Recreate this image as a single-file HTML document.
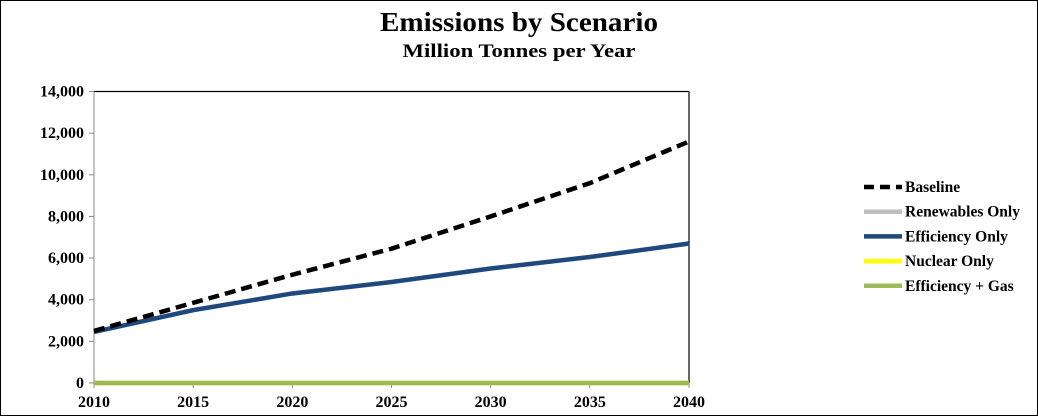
<!DOCTYPE html>
<html><head><meta charset="utf-8"><style>
html,body{margin:0;padding:0;background:#fff}
svg{display:block;font-family:"Liberation Serif",serif;font-weight:bold}
</style></head><body>
<svg width="1038" height="416" id="chart">
<rect x="0.5" y="0.5" width="1037" height="415" fill="#fff" stroke="#000"/>
<text x="519" y="31" text-anchor="middle" font-size="27" textLength="278" lengthAdjust="spacingAndGlyphs">Emissions by Scenario</text>
<text x="519" y="57" text-anchor="middle" font-size="19" textLength="233" lengthAdjust="spacingAndGlyphs">Million Tonnes per Year</text>
<g id="plot"></g>
<g id="legend"></g>
</svg>
<script>
const years=[2010,2015,2020,2025,2030,2035,2040];
const yTicks=[0,2000,4000,6000,8000,10000,12000,14000];
const baseline=[2500,3850,5200,6450,8000,9600,11600];
const renewables=[0,0,0,0,0,0,0];
const efficiency=[2450,3500,4300,4850,5500,6050,6700];
const nuclear=[0,0,0,0,0,0,0];
const effGas=[0,0,0,0,0,0,0];
const seriesNames=["Baseline","Renewables Only","Efficiency Only","Nuclear Only","Efficiency + Gas"];
const L=94,R=689,T=91.5,B=383;
const x=v=>L+(v-2010)/30*(R-L);
const y=v=>B-v/14000*(B-T);
const NS="http://www.w3.org/2000/svg";
const plot=document.getElementById('plot');
function mk(t,a,p){const e=document.createElementNS(NS,t);for(const k in a)e.setAttribute(k,a[k]);(p||plot).appendChild(e);return e;}
let e;
e=mk('line',{x1:L,y1:T,x2:R,y2:T,stroke:'#000','stroke-width':1.2});


e=mk('line',{x1:R,y1:T,x2:R,y2:B,stroke:'#000','stroke-width':1.2});


e=mk('line',{x1:L,y1:T,x2:L,y2:B,stroke:'#888','stroke-width':1});


e=mk('line',{x1:L,y1:B,x2:R,y2:B,stroke:'#888','stroke-width':1});


yTicks.forEach(v=>{
 e=mk('line',{x1:L-5,y1:y(v),x2:L,y2:y(v),stroke:'#888'});
 
 
 e=mk('text',{x:L-10,y:y(v)+5,'text-anchor':'end','font-size':16});
 e.textContent=v.toLocaleString('en-US');
 
 
});
years.forEach(v=>{
 e=mk('line',{x1:x(v),y1:B,x2:x(v),y2:B+5,stroke:'#888'});
 
 
 e=mk('text',{x:x(v),y:B+24,'text-anchor':'middle','font-size':16});
 e.textContent=v;
 
 
});
const styles=[
 {d:baseline,c:'#000',dash:'11,6',n:'baseline-line'},
 {d:renewables,c:'#bfbfbf',dash:'',n:'renewables-line'},
 {d:efficiency,c:'#1f497d',dash:'',n:'efficiency-line'},
 {d:nuclear,c:'#ffff00',dash:'',n:'nuclear-line'},
 {d:effGas,c:'#9bbb59',dash:'',n:'efficiency-gas-line'}];
[1,3,4,2,0].forEach(i=>{
 const s=styles[i];
 const pts=s.d.map((v,j)=>x(years[j])+','+y(v)).join(' ');
 e=mk('polyline',{points:pts,fill:'none',stroke:s.c,'stroke-width':4.5,'stroke-dasharray':s.dash,'stroke-linejoin':'round'});
 
 
});
const lg=document.getElementById('legend');
seriesNames.forEach((n,i)=>{
 const yy=187+i*24.7;
 const s=styles[i];
 const g=mk('g',{},lg);
 
 
 mk('line',{x1:864,y1:yy,x2:902,y2:yy,stroke:s.c,'stroke-width':4.5,'stroke-dasharray':s.dash?'10,6':''},g);
 const t=mk('text',{x:905,y:yy+5,'font-size':15.5},g);
 t.textContent=n;
});
</script>
</body></html>
